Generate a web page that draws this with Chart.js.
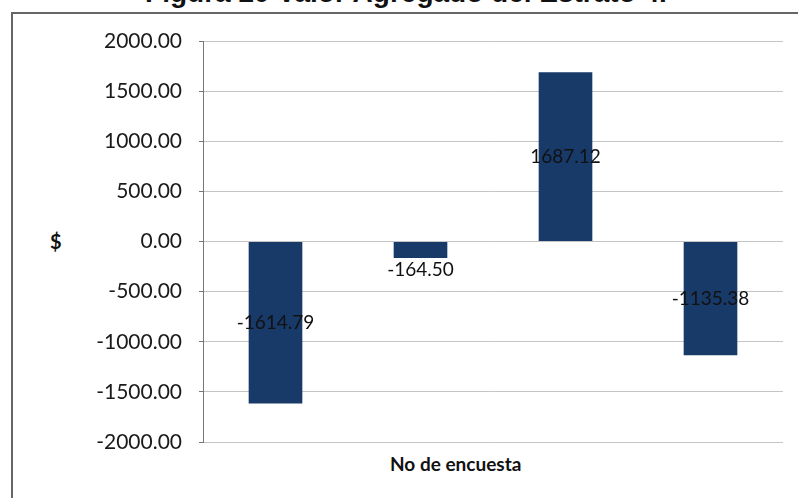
<!DOCTYPE html>
<html>
<head>
<meta charset="utf-8">
<script src="https://cdn.jsdelivr.net/npm/chart.js@4"></script>
<style>
  html, body { margin: 0; padding: 0; background: #fff; }
  #wrap { position: relative; width: 798px; height: 498px; overflow: hidden; }
  #frame { position: absolute; left: 11px; top: 12px; width: 800px; height: 500px;
    border-left: 2px solid #666; border-top: 2px solid #666; }
  #title { position: absolute; left: 0; width: 812px; top: -21px; text-align: center;
    font: bold 28px/1 "Liberation Sans", Arial, sans-serif; color: #111; white-space: nowrap; }
  #ylab { position: absolute; left: 50px; top: 229px; font: bold 20px Lato, sans-serif; color: #111; }
  #xlab { position: absolute; left: 390px; top: 452px; font: bold 19px Lato, sans-serif; color: #111; }
  canvas { position: absolute; left: 0; top: 0; }
</style>
</head>
<body>
<div id="wrap">
  <div id="title">Figura 20 Valor Agregado del Estrato 4.</div>
  <div id="frame"></div>
  <div id="ylab">$</div>
  <div id="xlab">No de encuesta</div>
  <canvas id="chart" width="798" height="498"></canvas>
</div>
<script>
const categories = ['1', '2', '3', '4'];
const values = [-1614.79, -164.50, 1687.12, -1135.38];
const yTicks = [-2000, -1500, -1000, -500, 0, 500, 1000, 1500, 2000];

// labels at bar centre, or just past the end when the bar is too short
const barLabels = {
  id: 'barLabels',
  afterDatasetsDraw(chart) {
    const { ctx } = chart;
    const meta = chart.getDatasetMeta(0);
    ctx.save();
    ctx.font = '19px Lato, sans-serif';
    ctx.fillStyle = '#111';
    ctx.textAlign = 'center';
    ctx.textBaseline = 'middle';
    meta.data.forEach((bar, i) => {
      const h = Math.abs(bar.y - bar.base);
      let y = (bar.y + bar.base) / 2;
      if (h < 30) y = values[i] < 0 ? bar.y + 12 : bar.y - 12;
      ctx.fillText(values[i].toFixed(2), bar.x, y);
    });
    ctx.restore();
  },
};

new Chart(document.getElementById('chart'), {
  type: 'bar',
  data: {
    labels: categories,
    datasets: [{ data: values, backgroundColor: '#183a68', barPercentage: 0.37, categoryPercentage: 1 }],
  },
  options: {
    responsive: false,
    animation: false,
    layout: { padding: { left: 0, top: 41, right: 15, bottom: 56 } },
    plugins: { legend: { display: false }, tooltip: { enabled: false } },
    scales: {
      x: { display: false },
      y: {
        min: -2000, max: 2000,
        afterFit: s => { s.width = 203; },
        afterBuildTicks: s => { s.ticks = yTicks.map(v => ({ value: v })); },
        ticks: { color: '#1a1a1a', font: { family: 'Lato', size: 21 }, padding: 17, callback: v => v.toFixed(2) },
        grid: { color: '#c4c4c4', tickColor: '#777', tickLength: 4 },
        border: { display: true, color: '#777', width: 1, dash: [] },
      },
    },
  },
  plugins: [barLabels],
});
</script>
</body>
</html>
